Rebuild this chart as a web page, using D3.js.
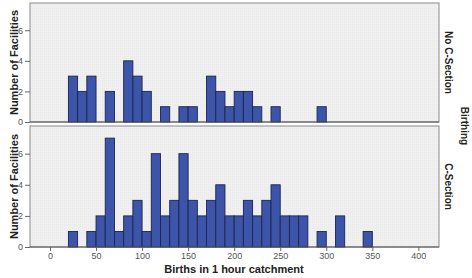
<!DOCTYPE html>
<html><head><meta charset="utf-8">
<script src="https://cdn.jsdelivr.net/npm/d3@7"></script>
<style>body{margin:0;background:#fff}svg{display:block}</style>
</head><body><svg id="c" width="472" height="278"></svg>
<script>
// bin starts (width 10)
const binStarts = [20,30,40,50,60,70,80,90,100,110,120,130,140,150,160,170,180,190,200,210,220,230,240,250,260,270,280,290,300,310,320,330,340];
const noCSection = [3,2,3,0,2,0,4,3,2,0,1,0,1,1,0,3,2,1,2,2,1,0,1,0,0,0,0,1,0,0,0,0,0];
const cSection   = [1,0,1,2,7,1,2,3,1,6,2,3,6,3,2,3,4,2,2,3,2,3,4,2,2,2,0,1,0,2,0,0,1];
const panelLabels = ["No C-Section","C-Section"];
const xTicks = [0,50,100,150,200,250,300,350,400];
const yTicks = [0,2,4,6];
const binWidth = 10;

const svg = d3.select("#c");
const L = 30, R = 439;
const x = d3.scaleLinear().domain([-21.7, 422.4]).range([L, R]);
const panels = [
  {vals: noCSection, top: 3, bottom: 122, label: panelLabels[0]},
  {vals: cSection, top: 126, bottom: 247, label: panelLabels[1]}
];
const font = "Arial, 'Liberation Sans', sans-serif";
const defs = svg.append("defs");
const pat = defs.append("pattern").attr("id","dots").attr("width",2).attr("height",2).attr("patternUnits","userSpaceOnUse");
pat.append("rect").attr("width",2).attr("height",2).attr("fill","#f0f0f0");
pat.append("rect").attr("width",1).attr("height",1).attr("fill","#e9e9e9");

panels.forEach((p, i) => {
  const y = d3.scaleLinear().domain([0, 7.78]).range([p.bottom, p.top]);
  svg.append("rect").attr("x", L).attr("y", p.top).attr("width", R - L).attr("height", p.bottom - p.top)
    .attr("fill", "url(#dots)").attr("stroke", "#8a8a8a").attr("stroke-width", 1);
  svg.append("g").selectAll("rect").data(binStarts.map((b, j) => ({b, v: p.vals[j]})).filter(d => d.v > 0))
    .join("rect")
    .attr("x", d => x(d.b)).attr("width", d => x(d.b + binWidth) - x(d.b))
    .attr("y", d => y(d.v)).attr("height", d => y(0) - y(d.v))
    .attr("fill", "#3d55a8").attr("stroke", "#1c2450").attr("stroke-width", 0.9);
  // baseline
  svg.append("line").attr("x1", L).attr("x2", R).attr("y1", p.bottom).attr("y2", p.bottom)
    .attr("stroke", "#555").attr("stroke-width", 1.2);
  const ay = svg.append("g").attr("transform", `translate(${L},0)`)
    .call(d3.axisLeft(y).tickValues(yTicks).tickSize(5).tickPadding(2).tickFormat(d3.format("d")));
  ay.select(".domain").remove();
  ay.selectAll("line").attr("stroke", "#666");
  ay.selectAll("text").attr("fill", "#555").style("font", `9px ${font}`);
  svg.append("text").attr("transform", `translate(14,${(p.top + p.bottom) / 2}) rotate(-90)`)
    .attr("text-anchor", "middle").attr("dy", "0.35em")
    .style("font", `bold 11px ${font}`).attr("fill", "#222").text("Number of Facilities");
  svg.append("text").attr("transform", `translate(448,${(p.top + p.bottom) / 2}) rotate(90)`)
    .attr("text-anchor", "middle").attr("dy", "0.35em")
    .style("font", `bold 10px ${font}`).attr("fill", "#222").text(p.label);
});
svg.append("text").attr("transform", `translate(464,126) rotate(90)`)
  .attr("text-anchor", "middle").attr("dy", "0.35em")
  .style("font", `bold 10px ${font}`).attr("fill", "#222").text("Birthing");

const ax = svg.append("g").attr("transform", `translate(0,247)`)
  .call(d3.axisBottom(x).tickValues(xTicks).tickSize(4).tickPadding(2).tickFormat(d3.format("d")));
ax.select(".domain").remove();
ax.selectAll("line").attr("stroke", "#666");
ax.selectAll("text").attr("fill", "#555").style("font", `9px ${font}`);
svg.append("text").attr("x", 234).attr("y", 273).attr("text-anchor", "middle")
  .style("font", `bold 11px ${font}`).attr("fill", "#222").text("Births in 1 hour catchment");
</script></body></html>
